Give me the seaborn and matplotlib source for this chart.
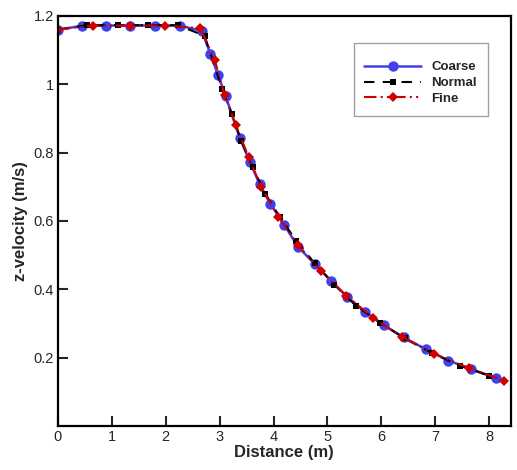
import seaborn as sns
import matplotlib.pyplot as plt
import pandas as pd

# Coarse mesh
coarse_x = [0.0, 0.44, 0.90, 1.33, 1.80, 2.26, 2.67, 2.83, 2.97, 3.11, 3.37, 3.56, 3.74,
            3.94, 4.20, 4.45, 4.76, 5.07, 5.36, 5.70, 6.04, 6.41, 6.83, 7.24, 7.67, 8.13]
coarse_v = [1.160, 1.171, 1.172, 1.172, 1.172, 1.172, 1.156, 1.088, 1.027, 0.966, 0.844, 0.773, 0.708,
            0.650, 0.588, 0.525, 0.474, 0.424, 0.378, 0.334, 0.295, 0.259, 0.224, 0.191, 0.166, 0.140]

# Normal mesh
normal_x = [0.0, 0.54, 1.12, 1.67, 2.23, 2.72, 3.05, 3.23, 3.40, 3.61, 3.85, 4.12, 4.42,
            4.76, 5.13, 5.53, 5.98, 6.43, 6.94, 7.46, 7.99]
normal_v = [1.160, 1.173, 1.173, 1.173, 1.173, 1.142, 0.986, 0.912, 0.835, 0.757, 0.679, 0.610, 0.542,
            0.476, 0.413, 0.351, 0.302, 0.256, 0.213, 0.176, 0.147]

# Fine mesh
fine_x = [0.0, 0.65, 1.33, 1.98, 2.64, 2.91, 3.09, 3.30, 3.54, 3.77, 4.09, 4.45, 4.88,
          5.35, 5.84, 6.39, 6.98, 7.63, 8.28]
fine_v = [1.160, 1.172, 1.172, 1.172, 1.164, 1.071, 0.969, 0.881, 0.786, 0.699, 0.612, 0.530, 0.453,
          0.381, 0.317, 0.259, 0.211, 0.169, 0.132]

x_ticks = [0, 1, 2, 3, 4, 5, 6, 7, 8]
y_ticks = [0.2, 0.4, 0.6, 0.8, 1.0, 1.2]
y_tick_labels = ['0.2', '0.4', '0.6', '0.8', '1', '1.2']

sns.set_style("white")
plt.rcParams['font.family'] = ['Liberation Sans', 'DejaVu Sans']

fig = plt.figure(figsize=(5.17, 4.70), dpi=100)
ax = fig.add_axes([0.112, 0.094, 0.876, 0.872])

coarse = pd.DataFrame({'x': coarse_x, 'v': coarse_v})
normal = pd.DataFrame({'x': normal_x, 'v': normal_v})
fine = pd.DataFrame({'x': fine_x, 'v': fine_v})

sns.lineplot(data=coarse, x='x', y='v', ax=ax, color='#4040ee', lw=1.8, marker='o',
             markersize=7.5, markeredgewidth=0, label='Coarse', sort=False)
sns.lineplot(data=normal, x='x', y='v', ax=ax, color='black', lw=1.5, marker='s',
             markersize=5, markeredgewidth=0, dashes=(5, 4), label='Normal', sort=False)
sns.lineplot(data=fine, x='x', y='v', ax=ax, color='#d00000', lw=1.5, marker='D',
             markersize=5.5, markeredgewidth=0, dashes=(6, 2, 1, 2, 1, 2), label='Fine', sort=False)

ax.set_xlim(0, 8.4)
ax.set_ylim(0, 1.2)
ax.set_xticks(x_ticks)
ax.set_yticks(y_ticks)
ax.set_yticklabels(y_tick_labels)
ax.tick_params(direction='in', length=7, width=1.5, labelsize=10.5, left=True, bottom=True, pad=3)
for s in ax.spines.values():
    s.set_linewidth(1.6)
    s.set_color('black')

ax.set_xlabel('Distance (m)', fontsize=12, fontweight='bold', labelpad=1)
ax.set_ylabel('z-velocity (m/s)', fontsize=12, fontweight='bold', labelpad=4)

leg = ax.legend(loc='upper left', bbox_to_anchor=(0.653, 0.934), prop={'weight': 'bold', 'size': 9.5},
                handlelength=4.3, fancybox=False, frameon=True, borderpad=0.8, labelspacing=0.27,
                handletextpad=0.8, borderaxespad=0, title=' ', title_fontsize=2)
leg.get_frame().set_edgecolor('#888888')
leg.get_frame().set_linewidth(1.0)

fig.savefig('out.png', dpi=100)
